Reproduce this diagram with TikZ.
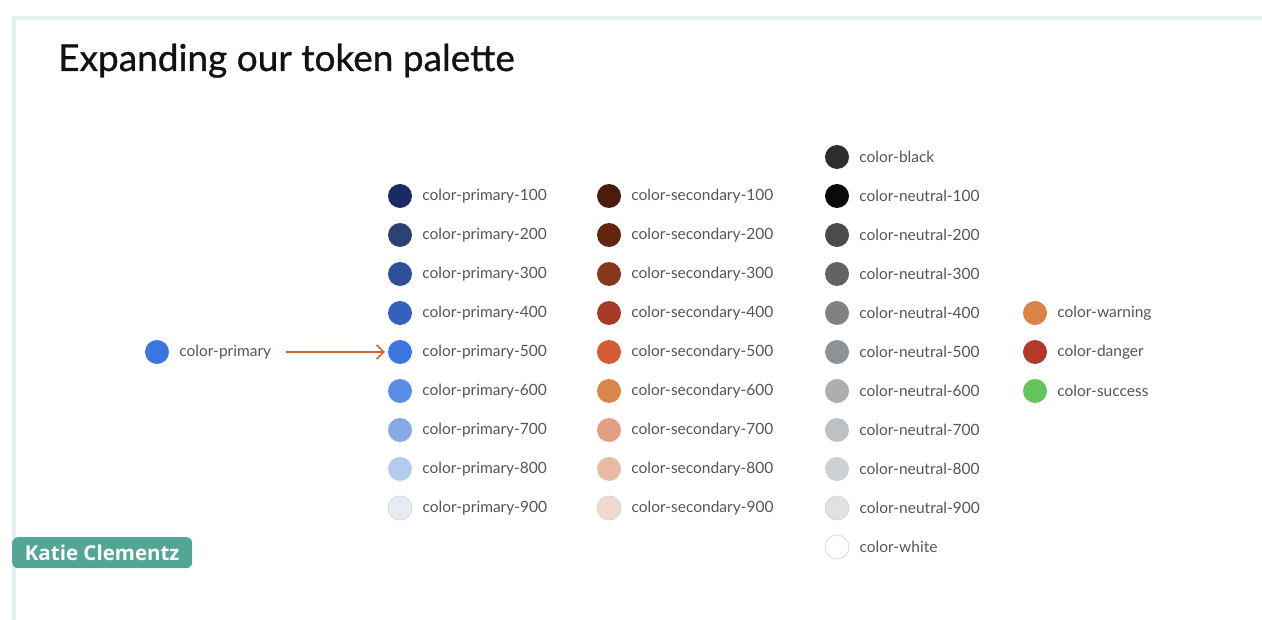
\documentclass[tikz,border=0pt]{standalone}
\usepackage{fontspec}
\setmainfont{Lato}
\newfontfamily\titlefont[FakeBold=0.8]{Lato}
\newfontfamily\badgefont{Open Sans}
\usepackage{tikz}
\usetikzlibrary{positioning, arrows.meta}

\definecolor{framecol}{HTML}{E2F0F2}
\definecolor{tokgray}{HTML}{555557}
\definecolor{badgecol}{HTML}{53A596}
\definecolor{arrowcol}{HTML}{D1612F}
\definecolor{ringcol}{HTML}{D6D8DA}

\definecolor{P1}{HTML}{1B2A63}
\definecolor{P2}{HTML}{2E4175}
\definecolor{P3}{HTML}{304F9A}
\definecolor{P4}{HTML}{3460BE}
\definecolor{P5}{HTML}{3C75DE}
\definecolor{P6}{HTML}{5A8DE3}
\definecolor{P7}{HTML}{86A9E6}
\definecolor{P8}{HTML}{B4CAEE}
\definecolor{P9}{HTML}{E5ECF4}

\definecolor{S1}{HTML}{4A1C0D}
\definecolor{S2}{HTML}{62260F}
\definecolor{S3}{HTML}{86381E}
\definecolor{S4}{HTML}{A53B27}
\definecolor{S5}{HTML}{D35B35}
\definecolor{S6}{HTML}{D8864C}
\definecolor{S7}{HTML}{E29F84}
\definecolor{S8}{HTML}{E8B9A3}
\definecolor{S9}{HTML}{F1D9CF}

\definecolor{NB}{HTML}{2B2D2F}
\definecolor{N1}{HTML}{0A0A0A}
\definecolor{N2}{HTML}{4A4B4D}
\definecolor{N3}{HTML}{626364}
\definecolor{N4}{HTML}{808182}
\definecolor{N5}{HTML}{909396}
\definecolor{N6}{HTML}{ADAEB0}
\definecolor{N7}{HTML}{BEC1C3}
\definecolor{N8}{HTML}{CDD1D4}
\definecolor{N9}{HTML}{DFE1E3}

\definecolor{Cwarn}{HTML}{DC8447}
\definecolor{Cdanger}{HTML}{B23A2A}
\definecolor{Csuccess}{HTML}{66C45F}

\begin{document}
\begin{tikzpicture}[x=1pt, y=-1pt, label distance=10pt,
  swatch/.style={circle, minimum size=24pt, inner sep=0pt},
  ringed/.style={swatch, draw=ringcol, line width=0.8pt},
  tok/.style={font=\fontsize{15.5}{17}\selectfont, text=tokgray, inner sep=0pt}]

\useasboundingbox (0,0) rectangle (1262,620);

% frame of the slide
\draw[framecol, line width=4pt] (14,640) -- (14,18) -- (1280,18);

\node[anchor=base west, inner sep=0pt, font=\titlefont\fontsize{37}{40}\selectfont, text=black!93] (title) at (58,71) {Expanding our token palette};

% base token
\node[swatch, fill=P5, label={[tok, name=CPlabel]right:color-primary}] (CP) at (157,352) {};

% primary scale
\node[swatch, fill=P1, label={[tok]right:color-primary-100}] (P100) at (400,196) {};
\node[swatch, fill=P2, label={[tok]right:color-primary-200}] (P200) at (400,235) {};
\node[swatch, fill=P3, label={[tok]right:color-primary-300}] (P300) at (400,274) {};
\node[swatch, fill=P4, label={[tok]right:color-primary-400}] (P400) at (400,313) {};
\node[swatch, fill=P5, label={[tok]right:color-primary-500}] (P500) at (400,352) {};
\node[swatch, fill=P6, label={[tok]right:color-primary-600}] (P600) at (400,391) {};
\node[swatch, fill=P7, label={[tok]right:color-primary-700}] (P700) at (400,430) {};
\node[swatch, fill=P8, label={[tok]right:color-primary-800}] (P800) at (400,469) {};
\node[ringed, fill=P9, label={[tok]right:color-primary-900}] (P900) at (400,508) {};

% secondary scale
\node[swatch, fill=S1, label={[tok]right:color-secondary-100}] (S100) at (609,196) {};
\node[swatch, fill=S2, label={[tok]right:color-secondary-200}] (S200) at (609,235) {};
\node[swatch, fill=S3, label={[tok]right:color-secondary-300}] (S300) at (609,274) {};
\node[swatch, fill=S4, label={[tok]right:color-secondary-400}] (S400) at (609,313) {};
\node[swatch, fill=S5, label={[tok]right:color-secondary-500}] (S500) at (609,352) {};
\node[swatch, fill=S6, label={[tok]right:color-secondary-600}] (S600) at (609,391) {};
\node[swatch, fill=S7, label={[tok]right:color-secondary-700}] (S700) at (609,430) {};
\node[swatch, fill=S8, label={[tok]right:color-secondary-800}] (S800) at (609,469) {};
\node[ringed, fill=S9, label={[tok]right:color-secondary-900}] (S900) at (609,508) {};

% neutral scale
\node[swatch, fill=NB, label={[tok]right:color-black}] (NBK) at (837,157) {};
\node[swatch, fill=N1, label={[tok]right:color-neutral-100}] (N100) at (837,196) {};
\node[swatch, fill=N2, label={[tok]right:color-neutral-200}] (N200) at (837,235) {};
\node[swatch, fill=N3, label={[tok]right:color-neutral-300}] (N300) at (837,274) {};
\node[swatch, fill=N4, label={[tok]right:color-neutral-400}] (N400) at (837,313) {};
\node[swatch, fill=N5, label={[tok]right:color-neutral-500}] (N500) at (837,352) {};
\node[swatch, fill=N6, label={[tok]right:color-neutral-600}] (N600) at (837,391) {};
\node[swatch, fill=N7, label={[tok]right:color-neutral-700}] (N700) at (837,430) {};
\node[swatch, fill=N8, label={[tok]right:color-neutral-800}] (N800) at (837,469) {};
\node[ringed, fill=N9, label={[tok]right:color-neutral-900}] (N900) at (837,508) {};
\node[ringed, fill=white, label={[tok]right:color-white}] (NWH) at (837,547) {};

% status tokens
\node[swatch, fill=Cwarn, label={[tok]right:color-warning}] (warn) at (1035,313) {};
\node[swatch, fill=Cdanger, label={[tok]right:color-danger}] (danger) at (1035,352) {};
\node[swatch, fill=Csuccess, label={[tok]right:color-success}] (success) at (1035,391) {};

\draw[arrowcol, line width=1.5pt, -{Straight Barb[length=7pt, width=14pt]}, shorten <=15pt, shorten >=3pt] (CPlabel.east) -- (P500.west);

\node[anchor=north west, minimum width=180pt, minimum height=31pt, inner sep=0pt, rounded corners=6pt, fill=badgecol, text=white, font=\badgefont\fontsize{20.5}{22}\selectfont\bfseries] (author) at (12,537) {Katie Clementz};
\end{tikzpicture}
\end{document}
